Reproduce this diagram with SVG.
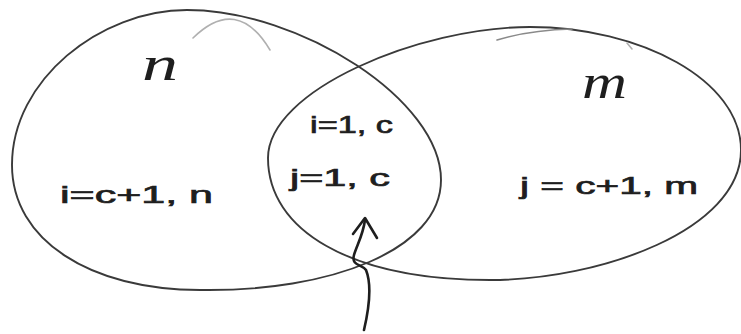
<svg xmlns="http://www.w3.org/2000/svg" width="741" height="334" viewBox="0 0 741 334">
<style>
.set{fill:none;stroke:#3a3a3a;stroke-width:1.9;stroke-linecap:round;stroke-linejoin:round}
.faint{fill:none;stroke:#b0b0b0;stroke-width:1.6;stroke-linecap:round}
.arrow{fill:none;stroke:#1e1e1e;stroke-width:2.6;stroke-linecap:round;stroke-linejoin:round}
.var{font-family:"Liberation Serif","DejaVu Serif",serif;font-style:italic;font-size:48px;fill:#1e1e1e}
.eq{font-family:"Liberation Sans","DejaVu Sans",sans-serif;font-size:24px;fill:#1e1e1e;stroke:#1e1e1e;stroke-width:0.7}
</style>
<rect width="741" height="334" fill="#ffffff"/>
<g id="set-n">
<path class="set" d="M12,165 C12,80 100,10 187,10 C300,10 441,100 441,180 C441,250 330,292 200,290 C90,290 12,240 12,165 Z"/>
<path class="faint" d="M193,38 Q237,-5 270,50"/>
<text class="var" x="142" y="80" textLength="36" lengthAdjust="spacingAndGlyphs">n</text>
<text class="eq" x="60" y="203" textLength="153" lengthAdjust="spacingAndGlyphs">i=c+1, n</text>
</g>
<g id="set-m">
<path class="set" d="M268,158 C268,90 420,27 530,27 C640,27 741,80 741,150 C741,230 600,280 490,280 C350,280 268,230 268,158 Z"/>
<path class="faint" d="M497,40 Q530,30 572,29" style="stroke:#8a8a8a"/>
<path class="faint" d="M627,43 L632,49"/>
<text class="var" x="582" y="98" textLength="45" lengthAdjust="spacingAndGlyphs">m</text>
<text class="eq" x="520" y="194" textLength="178" lengthAdjust="spacingAndGlyphs">j = c+1, m</text>
</g>
<g id="intersection">
<text class="eq" x="310" y="133" textLength="83" lengthAdjust="spacingAndGlyphs">i=1, c</text>
<text class="eq" x="290" y="186" textLength="100" lengthAdjust="spacingAndGlyphs">j=1, c</text>
</g>
<g id="connectors">
<path class="arrow" d="M364,330 C371,300 370,280 366,270 C362,264 351,266 354,255 C357,245 363,235 365,220"/>
<path class="arrow" d="M353,234 L365,218 L377,238"/>
</g>
</svg>
